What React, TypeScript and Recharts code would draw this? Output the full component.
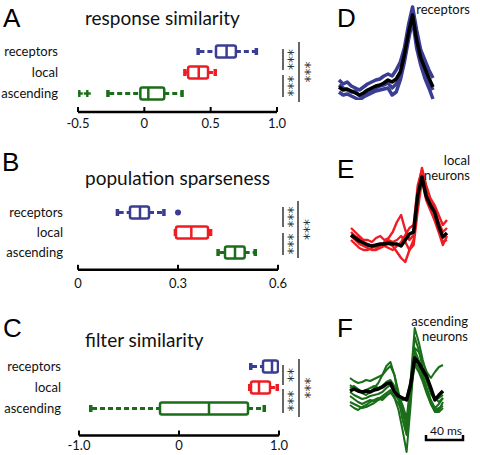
import React from 'react';
import { ComposedChart, Bar, XAxis, YAxis, LineChart, Line } from 'recharts';

const rows = ['receptors', 'local', 'ascending'];
const rowColors = ['#3a3d94', '#ee1d23', '#1a6e1a'];

// A: response similarity
const respLo = [0.4, 0.3, -0.28];
const respQ1 = [0.54, 0.33, -0.03];
const respMed = [0.62, 0.41, 0.03];
const respQ3 = [0.69, 0.48, 0.15];
const respHi = [0.85, 0.54, 0.29];
const respOut = [[], [], [-0.49, -0.43]];
const respTicks = [-0.5, 0, 0.5, 1.0];

// B: population sparseness
const sparLo = [0.116, 0.29, 0.418];
const sparQ1 = [0.156, 0.294, 0.441];
const sparMed = [0.186, 0.34, 0.471];
const sparQ3 = [0.213, 0.39, 0.5];
const sparHi = [0.26, 0.4, 0.534];
const sparOut = [[0.3], [], []];
const sparTicks = [0, 0.3, 0.6];

// C: filter similarity
const filtLo = [0.71, 0.7, -0.89];
const filtQ1 = [0.84, 0.72, -0.19];
const filtMed = [0.93, 0.8, 0.3];
const filtQ3 = [0.99, 0.91, 0.69];
const filtHi = [0.99, 0.99, 0.86];
const filtOut = [[], [], []];
const filtTicks = [-1, 0, 1];

// D-F: time course (ms) of filters
const times = [0, 5, 10, 15, 20, 25, 30, 35, 40, 45, 50, 55, 60, 65, 70, 75, 80, 85, 90, 95, 100, 105, 110, 115];

const recMean = [13, 10, 11, 9, 7, 5, 7, 10, 12, 14, 15, 17, 20, 18, 21, 28, 45, 67, 85, 60, 42, 32, 22, 13];
const recCell1 = [20, 16, 18, 14, 12, 10, 13, 16, 18, 20, 21, 24, 26, 24, 30, 38, 52, 75, 93, 70, 50, 40, 30, 22];
const recCell2 = [8, 5, 6, 4, 2, 0, 3, 5, 7, 9, 10, 11, 12, 5, 8, 20, 38, 60, 80, 52, 35, 22, 12, 1];
const recCell3 = [15, 12, 10, 8, 9, 4, 5, 8, 10, 12, 14, 15, 17, 12, 16, 25, 42, 65, 88, 64, 38, 28, 18, 10];

const locMean = [35, 32, 29, 27, 25, 24, 25, 26, 26, 27, 26, 26, 24, 30, 36, 38, 75, 93, 74, 65, 58, 44, 33, 37];
const locCell1 = [42, 38, 34, 30, 30, 28, 32, 34, 30, 32, 38, 48, 55, 40, 30, 35, 80, 102, 85, 72, 65, 55, 45, 50];
const locCell2 = [30, 26, 22, 20, 20, 22, 24, 25, 25, 26, 24, 18, 12, 8, 20, 30, 70, 98, 78, 66, 58, 42, 28, 30];
const locCell3 = [38, 34, 32, 28, 26, 24, 22, 24, 28, 30, 28, 30, 34, 28, 20, 25, 60, 90, 70, 60, 50, 38, 25, 34];
const locCell4 = [34, 30, 26, 24, 22, 20, 20, 22, 24, 22, 20, 24, 28, 35, 42, 45, 85, 100, 80, 70, 62, 48, 38, 42];

const ascMean = [69, 71, 69, 68, 69, 68, 70, 71, 73, 76, 77, 68, 64, 62, 60, 75, 102, 97, 90, 83, 72, 60, 65, 69];
const ascCell1 = [82, 79, 77, 78, 80, 79, 81, 83, 85, 90, 94, 85, 68, 50, 40, 62, 112, 108, 98, 88, 82, 88, 93, 95];
const ascCell2 = [68, 65, 63, 61, 62, 64, 65, 66, 68, 72, 75, 67, 60, 48, 30, 80, 132, 118, 100, 85, 70, 62, 58, 62];
const ascCell3 = [64, 61, 58, 56, 58, 60, 59, 61, 64, 67, 70, 62, 50, 30, 8, 55, 110, 100, 85, 70, 58, 50, 50, 58];
const ascCell4 = [75, 72, 70, 67, 65, 68, 72, 77, 85, 94, 98, 85, 62, 40, 25, 65, 105, 98, 85, 72, 60, 52, 56, 62];
const ascCell5 = [58, 56, 54, 52, 53, 55, 57, 60, 62, 65, 67, 64, 62, 60, 62, 80, 98, 92, 80, 68, 56, 48, 48, 52];
const ascCell6 = [72, 74, 71, 68, 70, 72, 74, 72, 74, 78, 80, 74, 65, 55, 42, 75, 123, 110, 92, 78, 66, 60, 62, 65];
const ascCell7 = [55, 52, 50, 53, 55, 58, 60, 62, 60, 64, 68, 62, 56, 48, 35, 68, 95, 88, 78, 66, 56, 50, 52, 54];

const FONT = 'Lato, "Open Sans", sans-serif';

function boxRows(lo: number[], q1: number[], med: number[], q3: number[], hi: number[], out: number[][]) {
  return rows.map((name, i) => {
    const all = [lo[i], hi[i], ...out[i]];
    return {
      name,
      range: [Math.min(...all), Math.max(...all)],
      lo: lo[i], q1: q1[i], med: med[i], q3: q3[i], hi: hi[i],
      out: out[i],
      color: rowColors[i],
    };
  });
}

const makeBoxShape = (outMark: 'plus' | 'dot') => (props: any) => {
  const { x, y, width, height, payload } = props;
  const [a, b] = payload.range;
  const px = (v: number) => x + ((v - a) / (b - a)) * width;
  const cy = y + height / 2;
  const h = 12;
  const c = payload.color;
  const xl = px(payload.lo), x1 = px(payload.q1), xm = px(payload.med), x3 = px(payload.q3), xh = px(payload.hi);
  return (
    <g>
      {x1 - xl > 1 && (
        <>
          <line x1={xl + 2} y1={cy} x2={x1} y2={cy} stroke={c} strokeWidth={3} strokeDasharray="5 3" />
          <rect x={xl - 1} y={cy - 3.5} width={3.5} height={7} fill={c} />
        </>
      )}
      {xh - x3 > 1 && (
        <>
          <line x1={x3} y1={cy} x2={xh - 2} y2={cy} stroke={c} strokeWidth={3} strokeDasharray="5 3" />
          <rect x={xh - 2.5} y={cy - 3.5} width={3.5} height={7} fill={c} />
        </>
      )}
      <rect x={x1} y={cy - h / 2} width={Math.max(x3 - x1, 1)} height={h} rx={2} fill="#fff" stroke={c} strokeWidth={2.5} />
      <line x1={xm} y1={cy - h / 2} x2={xm} y2={cy + h / 2} stroke={c} strokeWidth={2.5} />
      {payload.out.map((v: number, k: number) =>
        outMark === 'plus' ? (
          <g key={k}>
            <line x1={px(v) - 3.5} y1={cy} x2={px(v) + 3.5} y2={cy} stroke={c} strokeWidth={2.4} />
            <line x1={px(v)} y1={cy - 3.5} x2={px(v)} y2={cy + 3.5} stroke={c} strokeWidth={2.4} />
          </g>
        ) : (
          <circle key={k} cx={px(v)} cy={cy} r={3} fill={c} />
        )
      )}
    </g>
  );
};

interface BoxPanelProps {
  data: any[];
  domain: [number, number];
  ticks: number[];
  fmt: (v: number) => string;
  rowsTop: number;
  band: number;
  axisY: number;
  plotLeft: number;
  plotRight: number;
  labelEnd: number;
  labelGap: number;
  outMark: 'plus' | 'dot';
}

function BoxPanel(p: BoxPanelProps) {
  const top = p.rowsTop - 4;
  const height = p.axisY + 30 - top;
  return (
    <div style={{ position: 'absolute', left: 0, top }}>
      <ComposedChart
        layout="vertical"
        width={p.plotRight + 20}
        height={height}
        data={p.data}
        margin={{ top: 4, right: 20, bottom: 0, left: 0 }}
        barCategoryGap={0}
      >
        <XAxis
          type="number"
          domain={p.domain}
          ticks={p.ticks}
          allowDataOverflow
          interval={0}
          tickFormatter={p.fmt}
          height={30}
          axisLine={{ stroke: '#000', strokeWidth: 2.5 }}
          tickLine={{ stroke: '#000', strokeWidth: 2 }}
          tickSize={-5}
          tickMargin={p.labelGap}
          tick={{ fill: '#111', fontSize: 13, fontFamily: FONT }}
        />
        <YAxis
          type="category"
          dataKey="name"
          width={p.plotLeft}
          interval={0}
          axisLine={false}
          tickLine={false}
          tickSize={0}
          tickMargin={p.plotLeft - p.labelEnd}
          padding={{ top: 0, bottom: p.axisY - (p.rowsTop + 3 * p.band) }}
          tick={{ fill: '#111', fontSize: 13, fontFamily: FONT }}
        />
        <Bar dataKey="range" barSize={13} isAnimationActive={false} shape={makeBoxShape(p.outMark)} />
      </ComposedChart>
    </div>
  );
}

interface TraceProps {
  left: number;
  top: number;
  width: number;
  height: number;
  ymax: number;
  cells: number[][];
  mean: number[];
  color: string;
  lw: number;
}

function TracePanel(p: TraceProps) {
  const data = times.map((t, i) => {
    const row: any = { t, mean: p.mean[i] };
    p.cells.forEach((c, k) => (row['c' + k] = c[i]));
    return row;
  });
  return (
    <div style={{ position: 'absolute', left: p.left - 5, top: p.top - 5 }}>
      <LineChart width={p.width + 10} height={p.height + 10} data={data} margin={{ top: 5, right: 5, bottom: 5, left: 5 }}>
        <XAxis type="number" dataKey="t" domain={[0, 115]} hide />
        <YAxis type="number" domain={[0, p.ymax]} hide allowDataOverflow />
        {p.cells.map((_, k) => (
          <Line
            key={k}
            type="linear"
            dataKey={'c' + k}
            stroke={p.color}
            strokeWidth={p.lw}
            strokeLinejoin="round"
            dot={false}
            isAnimationActive={false}
          />
        ))}
        <Line type="linear" dataKey="mean" stroke="#000" strokeWidth={3.5} strokeLinejoin="round" dot={false} isAnimationActive={false} />
      </LineChart>
    </div>
  );
}

const fmt1 = (v: number) => (v === 0 ? '0' : v.toFixed(1));

function Sig({ x, y1, y2, label, tx }: { x: number; y1: number; y2: number; label: string; tx: number }) {
  const cy = (y1 + y2) / 2;
  return (
    <g>
      <line x1={x} y1={y1} x2={x} y2={y2} stroke="#000" strokeWidth={1.2} />
      <text x={tx} y={cy} transform={`rotate(90 ${tx} ${cy})`} textAnchor="middle" dominantBaseline="central" fontSize={14} fill="#333" fontFamily='"DejaVu Sans", sans-serif'>
        {label}
      </text>
    </g>
  );
}

export default function App() {
  const letter = { fontFamily: '"Liberation Sans", Arial, sans-serif', fontSize: 26, fill: '#000' };
  const title = { fontFamily: FONT, fontSize: 19, fill: '#111' };
  const side = { fontFamily: FONT, fontSize: 13, fill: '#111', textAnchor: 'end' as const };
  return (
    <div style={{ position: 'absolute', left: 0, top: 0, width: 480, height: 455, background: '#fff', overflow: 'hidden', fontFamily: FONT }}>
      <BoxPanel
        data={boxRows(respLo, respQ1, respMed, respQ3, respHi, respOut)}
        domain={[-0.5, 1]} ticks={respTicks} fmt={fmt1}
        rowsTop={40.5} band={21} axisY={111.5} plotLeft={78} plotRight={277} labelEnd={58} labelGap={12} outMark="plus"
      />
      <BoxPanel
        data={boxRows(sparLo, sparQ1, sparMed, sparQ3, sparHi, sparOut)}
        domain={[0, 0.6]} ticks={sparTicks} fmt={fmt1}
        rowsTop={201.5} band={20} axisY={269.3} plotLeft={78} plotRight={278} labelEnd={63} labelGap={14} outMark="dot"
      />
      <BoxPanel
        data={boxRows(filtLo, filtQ1, filtMed, filtQ3, filtHi, filtOut)}
        domain={[-1, 1]} ticks={filtTicks} fmt={fmt1}
        rowsTop={355.5} band={21} axisY={435} plotLeft={79} plotRight={279} labelEnd={61} labelGap={10.5} outMark="plus"
      />
      <TracePanel left={339} top={0} width={94} height={100} ymax={100} cells={[recCell1, recCell2, recCell3]} mean={recMean} color="#3a3d94" lw={3.5} />
      <TracePanel left={351} top={160} width={96} height={110} ymax={110} cells={[locCell1, locCell2, locCell3, locCell4]} mean={locMean} color="#ee1d23" lw={2.4} />
      <TracePanel left={350} top={320} width={93} height={140} ymax={140} cells={[ascCell1, ascCell2, ascCell3, ascCell4, ascCell5, ascCell6, ascCell7]} mean={ascMean} color="#1a6e1a" lw={2} />
      <svg width={480} height={455} style={{ position: 'absolute', left: 0, top: 0, pointerEvents: 'none' }}>
        <text x={3} y={27} {...letter}>A</text>
        <text x={2} y={171} {...letter}>B</text>
        <text x={3} y={337} {...letter}>C</text>
        <text x={337} y={27} {...letter}>D</text>
        <text x={337} y={178} {...letter}>E</text>
        <text x={337} y={337} {...letter}>F</text>
        <text x={85} y={25} {...title}>response similarity</text>
        <text x={85} y={185} {...title}>population sparseness</text>
        <text x={85} y={347} {...title}>filter similarity</text>
        <text x={470} y={14} {...side}>receptors</text>
        <text x={470} y={165} {...side}>local</text>
        <text x={470} y={180} {...side}>neurons</text>
        <text x={468} y={326} {...side}>ascending</text>
        <text x={468} y={341} {...side}>neurons</text>
        <text x={446} y={435} textAnchor="middle" fontFamily={FONT} fontSize={12} fill="#111">40 ms</text>
        <path d="M426 435 V440 H463 V435" fill="none" stroke="#000" strokeWidth={2.5} />
        <Sig x={283} y1={49} y2={70} tx={289} label="***" />
        <Sig x={283} y1={75} y2={97} tx={289} label="***" />
        <Sig x={299} y1={42} y2={102} tx={306} label="***" />
        <Sig x={283} y1={207} y2={227} tx={289} label="***" />
        <Sig x={283} y1={233} y2={255} tx={289} label="***" />
        <Sig x={298} y1={201} y2={258} tx={305} label="***" />
        <Sig x={283} y1={365} y2={385} tx={289} label="**" />
        <Sig x={283} y1={389} y2={413} tx={289} label="***" />
        <Sig x={299} y1={359} y2={417} tx={306} label="***" />
      </svg>
    </div>
  );
}
